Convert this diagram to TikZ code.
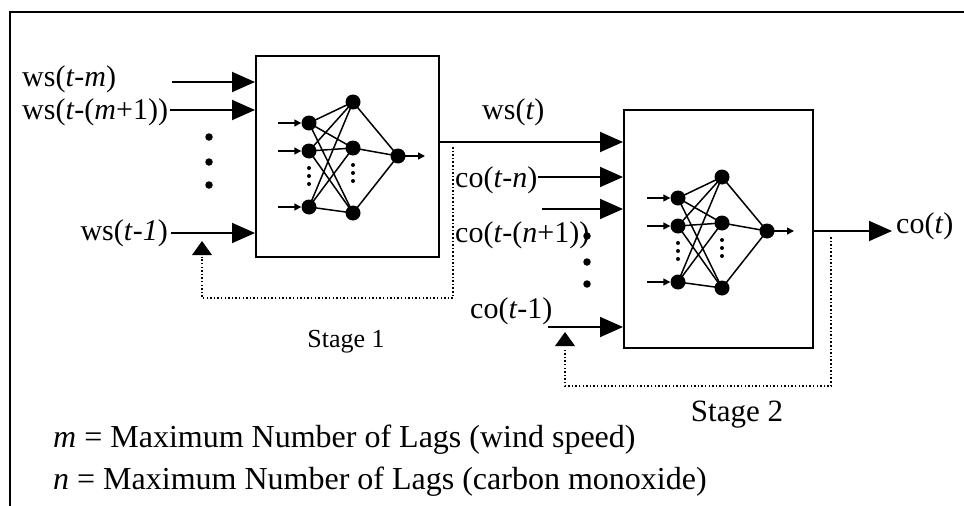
\documentclass[tikz,border=0pt]{standalone}
\usepackage{fontspec}
\setmainfont{Liberation Serif}
\usetikzlibrary{arrows.meta}
\tikzset{
  lbl/.style={inner sep=0pt, font=\fontsize{30}{36}\selectfont},
  leg/.style={inner sep=0pt, font=\fontsize{32}{38}\selectfont, anchor=base west},
  stagebox/.style={draw, line width=2pt, inner sep=0pt, anchor=north west},
  feed/.style={-{Triangle[length=23pt,width=20pt]}, line width=1.9pt},
  dotline/.style={line width=1.5pt, dash pattern=on 1.5pt off 2.1pt},
  neuron/.style={circle, fill, inner sep=0pt, minimum size=15pt},
  syn/.style={line width=1.5pt},
  smalltip/.style={syn, -{Triangle[length=7pt,width=7pt]}},
  tinydot/.style={circle, fill, inner sep=0pt, minimum size=4pt},
  bigdot/.style={circle, fill, inner sep=0pt, minimum size=7.5pt},
  annet/.pic={
    \node[neuron] (-o) at (0,0) {};
    \node[neuron] (-h1) at (-45,-54) {};
    \node[neuron] (-h2) at (-45,-8) {};
    \node[neuron] (-h3) at (-45,57) {};
    \node[neuron] (-i1) at (-89,-33) {};
    \node[neuron] (-i2) at (-89,-5) {};
    \node[neuron] (-i3) at (-89,51) {};
    \foreach \a in {1,2,3}{
      \foreach \b in {1,2,3}{\draw[syn] (-i\a.center) -- (-h\b.center);}
      \draw[syn] (-h\a.center) -- (-o.center);
    }
    \coordinate (-s1) at (-120,-33);
    \coordinate (-s2) at (-120,-5);
    \coordinate (-s3) at (-120,51);
    \coordinate (-e) at (27,0);
    \foreach \a in {1,2,3}{\draw[smalltip] (-s\a) -- (-i\a.west);}
    \draw[smalltip] (-o.center) -- (-e);
    \node[tinydot] (-d1) at (-89,12) {};
    \node[tinydot] (-d2) at (-89,20) {};
    \node[tinydot] (-d3) at (-89,28) {};
    \node[tinydot] (-g1) at (-45,9) {};
    \node[tinydot] (-g2) at (-45,17) {};
    \node[tinydot] (-g3) at (-45,25) {};
  }
}
\begin{document}
\begin{tikzpicture}[x=1pt,y=-1pt]
\useasboundingbox (0,0) rectangle (964,506);
% frame
\coordinate (fr1) at (964,12);
\coordinate (fr2) at (10,12);
\coordinate (fr3) at (10,506);
\draw[line width=2.4pt] (fr1) -- (fr2) -- (fr3);

% boxes
\node[stagebox, minimum width=183pt, minimum height=201pt] (box1) at (255,55) {};
\node[stagebox, minimum width=189pt, minimum height=238pt] (box2) at (623,109) {};

% networks
\pic (net1) at (398,156) {annet};
\pic (net2) at (767,231) {annet};

% stage 1 inputs
\node[lbl, anchor=base west] (wsm) at (22,86) {ws(\textit{t}-\textit{m})};
\node[lbl, anchor=base west] (wsm1) at (22,119) {ws(\textit{t}-(\textit{m}+1))};
\node[lbl, anchor=base east] (ws1) at (168,240) {ws(\textit{t}-\textit{1})};
\coordinate (a1) at (172,82);
\coordinate (a2) at (170,110);
\coordinate (a3) at (171,233);
\draw[feed] (a1) -- (a1 -| box1.west);
\draw[feed] (a2) -- (a2 -| box1.west);
\draw[feed] (a3) -- (a3 -| box1.west);
\node[bigdot] (dd1) at (209,137) {};
\node[bigdot] (dd2) at (209,162) {};
\node[bigdot] (dd3) at (209,185) {};

% stage 1 output -> stage 2
\coordinate (o1) at (438,142);
\draw[feed] (o1) -- (o1 -| box2.west);
\node[lbl, anchor=base west] (wst) at (482,119) {ws(\textit{t})};

% feedback 1
\coordinate (f1a) at (453,147);
\coordinate (f1b) at (453,298);
\coordinate (f1c) at (202,298);
\coordinate (f1d) at (202,241);
\draw[dotline] (f1a) -- (f1b) -- (f1c) -- ([yshift=-16pt]f1d);
\fill ([shift={(-10pt,-14pt)}]f1d) -- ([shift={(10pt,-14pt)}]f1d) -- (f1d) -- cycle;

% stage 2 inputs
\node[lbl, anchor=base west] (con) at (455,187) {co(\textit{t}-\textit{n})};
\node[lbl, anchor=base west] (con1) at (455,242) {co(\textit{t}-(\textit{n}+1))};
\node[lbl, anchor=base west] (co1) at (470,318) {co(\textit{t}-1)};
\coordinate (b1) at (538,177);
\coordinate (b2) at (542,209);
\coordinate (b3) at (548,327);
\draw[feed] (b1) -- (b1 -| box2.west);
\draw[feed] (b2) -- (b2 -| box2.west);
\draw[feed] (b3) -- (b3 -| box2.west);
\node[bigdot] (ee1) at (587,236) {};
\node[bigdot] (ee2) at (587,262) {};
\node[bigdot] (ee3) at (587,284) {};

% stage 2 output
\coordinate (o2) at (812,231);
\coordinate (o2e) at (892,231);
\draw[feed] (o2) -- (o2e);
\node[lbl, anchor=base west] (cot) at (896,233) {co(\textit{t})};

% feedback 2
\coordinate (f2a) at (831,237);
\coordinate (f2b) at (831,386);
\coordinate (f2c) at (565,386);
\coordinate (f2d) at (565,332);
\draw[dotline] (f2a) -- (f2b) -- (f2c) -- ([yshift=-16pt]f2d);
\fill ([shift={(-10pt,-14pt)}]f2d) -- ([shift={(10pt,-14pt)}]f2d) -- (f2d) -- cycle;

% stage labels
\node[inner sep=0pt, anchor=base, font=\fontsize{26}{30}\selectfont] (st1) at (346,347) {Stage 1};
\node[inner sep=0pt, anchor=base, font=\fontsize{31}{36}\selectfont] (st2) at (737,421) {Stage 2};

% legend
\node[leg] (legm) at (53,447) {\textit{m} = Maximum Number of Lags (wind speed)};
\node[leg] (legn) at (53,489) {\textit{n} = Maximum Number of Lags (carbon monoxide)};
\end{tikzpicture}
\end{document}
